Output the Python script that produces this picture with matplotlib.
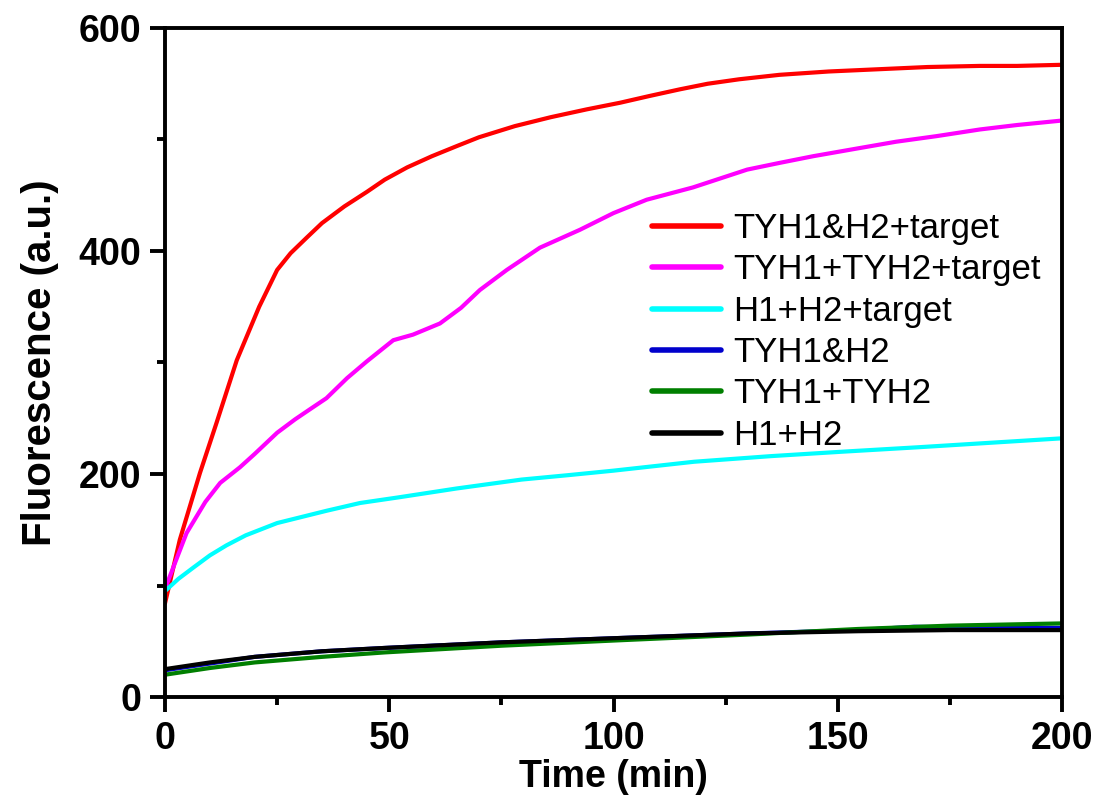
import matplotlib
matplotlib.use("Agg")
import matplotlib.pyplot as plt
from matplotlib.ticker import MultipleLocator

plt.rcParams['font.family'] = ['Liberation Sans', 'DejaVu Sans']

labels = ["TYH1&H2+target", "TYH1+TYH2+target", "H1+H2+target",
          "TYH1&H2", "TYH1+TYH2", "H1+H2"]
colors = ["#ff0000", "#ff00ff", "#00ffff", "#0000cc", "#007f00", "#000000"]

red_t = [0, 3.3, 7.8, 11.5, 16, 21, 25, 28, 31.6, 35, 40, 45, 49, 54, 59.5, 65,
         70, 78, 86, 94, 101.5, 108, 114.8, 121, 128, 137, 148, 159, 170,
         181.7, 190, 200]
red_v = [84, 141, 201, 246, 302, 350, 383, 398, 412, 425, 440, 453, 464, 475,
         485, 494, 502, 512, 520, 527, 533, 539, 545, 550, 554, 558, 561, 563,
         565, 566, 566, 567]

mag_t = [0, 4.8, 9, 12.3, 16.7, 20, 25, 29, 32.3, 36, 40.6, 45, 50.9, 55.3,
         61.3, 66, 70.2, 76.2, 83.6, 92.5, 100, 107.4, 117.7, 129.8, 137,
         144.5, 153, 163, 172, 181.7, 190, 200]
mag_v = [97, 147, 175, 192, 206, 218, 237, 249, 258, 268, 286, 301, 320, 325,
         335, 349, 365, 383, 403, 419, 434, 446, 457, 473, 479, 485, 491, 498,
         503, 509, 513, 517]

cyan_t = [0, 3, 6.3, 10, 13.7, 18, 25, 30, 36, 43.5, 52, 65, 79.5, 90, 100,
          118, 135, 151, 168, 184, 200]
cyan_v = [95, 106, 116, 127, 136, 145, 156, 161, 167, 174, 179, 187, 195, 199,
          203, 211, 216, 220, 224, 228, 232]

blue_t = [0, 10, 20, 35, 49, 75, 102, 130, 154.5, 167, 185, 200]
blue_v = [24, 30, 36, 41, 44, 49, 53, 57, 60, 63, 62, 62]

green_t = [0, 10, 20, 35, 49, 75, 102, 130, 154.5, 175, 200]
green_v = [20, 26, 31, 36, 40, 46, 51, 56, 61, 64, 66]

black_t = [0, 10, 20, 35, 49, 75, 102, 130, 154.5, 175, 200]
black_v = [25, 31, 36, 41, 44, 49, 53, 57, 59, 60, 60]

series_t = [red_t, mag_t, cyan_t, blue_t, green_t, black_t]
series_v = [red_v, mag_v, cyan_v, blue_v, green_v, black_v]

x_ticks = [0, 50, 100, 150, 200]
y_ticks = [0, 200, 400, 600]

fig = plt.figure(figsize=(11.02, 8.09), dpi=100)
ax = fig.add_axes([165/1102, 1-697/809, (1062-165)/1102, (697-28)/809])

for t, v, c, lab in zip(series_t, series_v, colors, labels):
    ax.plot(t, v, color=c, lw=3.0, label=lab, solid_capstyle='round',
            solid_joinstyle='round')

ax.set_xlim(0, 200)
ax.set_ylim(0, 600)
ax.set_xticks(x_ticks)
ax.set_yticks(y_ticks)
ax.xaxis.set_minor_locator(MultipleLocator(25))
ax.yaxis.set_minor_locator(MultipleLocator(100))

for s in ax.spines.values():
    s.set_linewidth(2.8)
ax.tick_params(which='major', direction='out', length=11, width=2.8,
               labelsize=27, pad=6)
ax.tick_params(which='minor', direction='out', length=6, width=2.8)
for lab in ax.get_xticklabels() + ax.get_yticklabels():
    lab.set_fontweight('bold')

ax.set_xlabel("Time (min)", fontsize=27, fontweight='bold', labelpad=2)
ax.set_ylabel("Fluorescence (a.u.)", fontsize=29, fontweight='bold', labelpad=14)

leg = ax.legend(loc='upper left', bbox_to_anchor=((652-165)/897, (697-212)/669),
                frameon=False, fontsize=25, handlelength=2.0, handletextpad=0.35,
                labelspacing=0.24, borderpad=0, borderaxespad=0)
for h in leg.get_lines():
    h.set_linewidth(4)

fig.savefig("out.png", dpi=100)
